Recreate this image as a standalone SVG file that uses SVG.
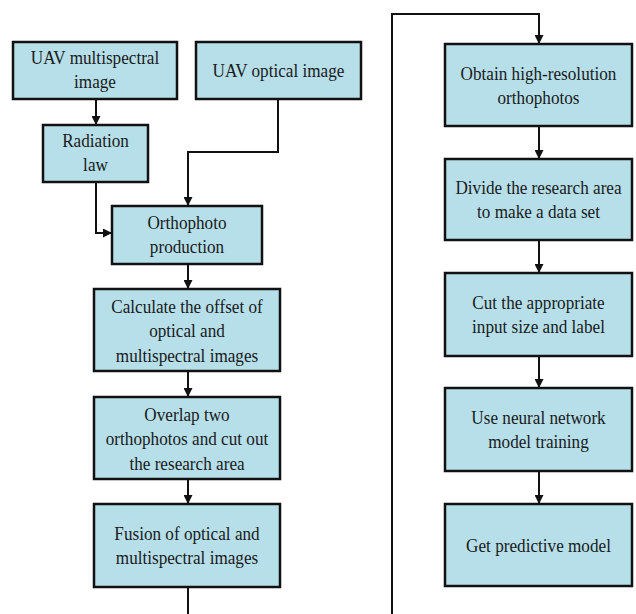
<svg xmlns="http://www.w3.org/2000/svg" width="636" height="614" viewBox="0 0 636 614">
<defs>
<style>
.box{fill:#b6dfea;stroke:#111;stroke-width:2.5}
.t{font-family:"Liberation Serif","Times New Roman",serif;font-size:19.5px;fill:#1a1a1a;text-anchor:middle}
.c{fill:none;stroke:#111;stroke-width:2;marker-end:url(#ah)}
</style>
<marker id="ah" viewBox="0 0 10 10" refX="10" refY="5" markerWidth="9" markerHeight="9" markerUnits="userSpaceOnUse" orient="auto">
<path d="M0,0 L10,5 L0,10 z" fill="#111"/>
</marker>
</defs>
<rect width="636" height="614" fill="#fff"/>
<g id="connectors">
<path class="c" d="M96 99 V125"/>
<path class="c" d="M96 182 V233 H112"/>
<path class="c" d="M278 99 V152 H188 V206"/>
<path class="c" d="M188 264 V289"/>
<path class="c" d="M188 371 V397"/>
<path class="c" d="M188 479 V504"/>
<path class="c" d="M188 587 V640 H392 V14 H539 V44"/>
<path class="c" d="M539 126 V159"/>
<path class="c" d="M539 240 V273"/>
<path class="c" d="M539 356 V388"/>
<path class="c" d="M539 471 V504"/>
</g>
<g id="n1"><rect class="box" x="13" y="42" width="164" height="57"/>
<g transform="translate(95 0) scale(0.88 1)"><text class="t" x="0" y="64">UAV multispectral</text><text class="t" x="0" y="88">image</text></g></g>
<g id="n2"><rect class="box" x="196" y="42" width="165" height="57"/>
<g transform="translate(278.5 0) scale(0.88 1)"><text class="t" x="0" y="77">UAV optical image</text></g></g>
<g id="n3"><rect class="box" x="43" y="125" width="105" height="57"/>
<g transform="translate(95.5 0) scale(0.88 1)"><text class="t" x="0" y="147">Radiation</text><text class="t" x="0" y="171">law</text></g></g>
<g id="n4"><rect class="box" x="112" y="206" width="150" height="58"/>
<g transform="translate(187 0) scale(0.88 1)"><text class="t" x="0" y="229">Orthophoto</text><text class="t" x="0" y="253">production</text></g></g>
<g id="n5"><rect class="box" x="94" y="289" width="186" height="82"/>
<g transform="translate(187 0) scale(0.88 1)"><text class="t" x="0" y="313">Calculate the offset of</text><text class="t" x="0" y="337.5">optical and</text><text class="t" x="0" y="362">multispectral images</text></g></g>
<g id="n6"><rect class="box" x="94" y="397" width="186" height="82"/>
<g transform="translate(187 0) scale(0.88 1)"><text class="t" x="0" y="421">Overlap two</text><text class="t" x="0" y="445.5">orthophotos and cut out</text><text class="t" x="0" y="470">the research area</text></g></g>
<g id="n7"><rect class="box" x="94" y="504" width="186" height="83"/>
<g transform="translate(187 0) scale(0.88 1)"><text class="t" x="0" y="540">Fusion of optical and</text><text class="t" x="0" y="564.5">multispectral images</text></g></g>
<g id="n8"><rect class="box" x="445" y="44" width="187" height="82"/>
<g transform="translate(538.5 0) scale(0.88 1)"><text class="t" x="0" y="80">Obtain high-resolution</text><text class="t" x="0" y="104.5">orthophotos</text></g></g>
<g id="n9"><rect class="box" x="445" y="159" width="187" height="81"/>
<g transform="translate(538.5 0) scale(0.88 1)"><text class="t" x="0" y="194">Divide the research area</text><text class="t" x="0" y="218.5">to make a data set</text></g></g>
<g id="n10"><rect class="box" x="445" y="273" width="187" height="83"/>
<g transform="translate(538.5 0) scale(0.88 1)"><text class="t" x="0" y="309">Cut the appropriate</text><text class="t" x="0" y="333.5">input size and label</text></g></g>
<g id="n11"><rect class="box" x="445" y="388" width="187" height="83"/>
<g transform="translate(538.5 0) scale(0.88 1)"><text class="t" x="0" y="424">Use neural network</text><text class="t" x="0" y="448.5">model training</text></g></g>
<g id="n12"><rect class="box" x="445" y="504" width="187" height="82"/>
<g transform="translate(538.5 0) scale(0.88 1)"><text class="t" x="0" y="552">Get predictive model</text></g></g>
</svg>
